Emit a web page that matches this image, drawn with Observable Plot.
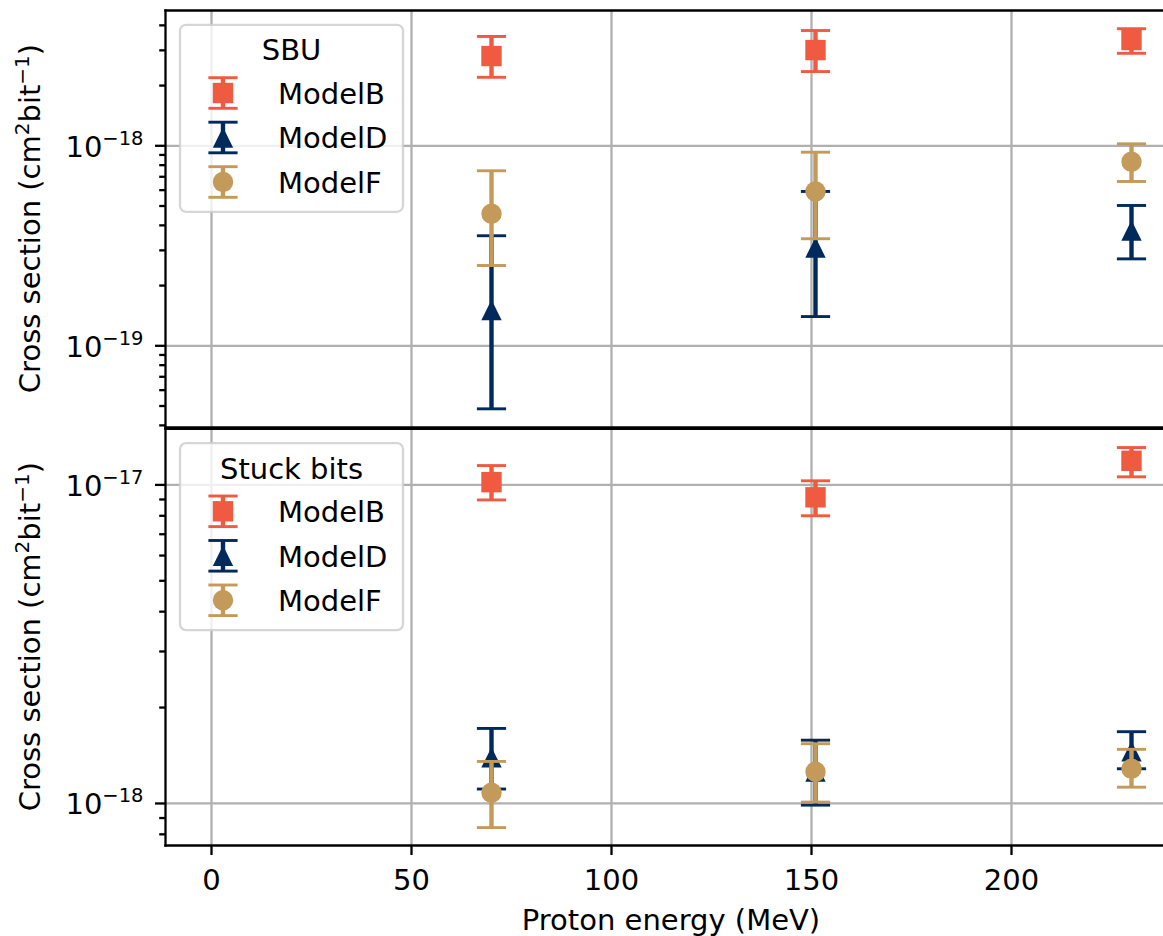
<!DOCTYPE html>
<html>
<head>
<meta charset="utf-8">
<script src="https://cdn.jsdelivr.net/npm/d3@7"></script>
<script src="https://cdn.jsdelivr.net/npm/@observablehq/plot@0.6"></script>
<style>
html, body { margin: 0; padding: 0; background: #fff; overflow: hidden; }
#chart { width: 1163px; height: 936px; overflow: hidden; position: relative; }
#chart svg { display: block; }
</style>
</head>
<body>
<div id="chart"></div>
<script>
// ---------------- data ----------------
const energies = [70, 151, 230];               // MeV
const models = ["ModelB", "ModelD", "ModelF"];
const modelColors = ["#F05A41", "#002A5C", "#C49A5B"];
const xTicks = [0, 50, 100, 150, 200];
const xLabel = "Proton energy (MeV)";
const panelTitles = ["SBU", "Stuck bits"];

// SBU panel (cm^2 bit^-1)
const sbuModelB     = [2.81e-18, 3.01e-18, 3.38e-18];
const sbuModelBLow  = [2.20e-18, 2.35e-18, 2.90e-18];
const sbuModelBHigh = [3.52e-18, 3.77e-18, 3.85e-18];
const sbuModelD     = [1.51e-19, 3.10e-19, 3.77e-19];
const sbuModelDLow  = [4.84e-20, 1.40e-19, 2.72e-19];
const sbuModelDHigh = [3.55e-19, 5.91e-19, 5.03e-19];
const sbuModelF     = [4.57e-19, 5.91e-19, 8.32e-19];
const sbuModelFLow  = [2.52e-19, 3.43e-19, 6.63e-19];
const sbuModelFHigh = [7.50e-19, 9.29e-19, 1.023e-18];

// Stuck bits panel (cm^2 bit^-1)
const stuckModelB     = [1.02e-17, 9.14e-18, 1.19e-17];
const stuckModelBLow  = [8.97e-18, 8.00e-18, 1.06e-17];
const stuckModelBHigh = [1.15e-17, 1.03e-17, 1.31e-17];
const stuckModelD     = [1.395e-18, 1.26e-18, 1.457e-18];
const stuckModelDLow  = [1.11e-18, 0.988e-18, 1.285e-18];
const stuckModelDHigh = [1.72e-18, 1.58e-18, 1.68e-18];
const stuckModelF     = [1.08e-18, 1.257e-18, 1.286e-18];
const stuckModelFLow  = [8.4e-19, 1.01e-18, 1.125e-18];
const stuckModelFHigh = [1.355e-18, 1.54e-18, 1.479e-18];

// axis tick values
const sbuMajor = [1e-19, 1e-18];
const sbuMinor = [4e-20, 5e-20, 6e-20, 7e-20, 8e-20, 9e-20,
                  2e-19, 3e-19, 4e-19, 5e-19, 6e-19, 7e-19, 8e-19, 9e-19,
                  2e-18, 3e-18, 4e-18];
const stuckMajor = [1e-18, 1e-17];
const stuckMinor = [8e-19, 9e-19, 2e-18, 3e-18, 4e-18, 5e-18, 6e-18, 7e-18, 8e-18, 9e-18];

// ---------------- helpers ----------------
function rowsFor(center, low, high) {
  return energies.map((e, i) => ({energy: e, value: center[i], low: low[i], high: high[i]}));
}
const sbuRows = [
  rowsFor(sbuModelB, sbuModelBLow, sbuModelBHigh),
  rowsFor(sbuModelD, sbuModelDLow, sbuModelDHigh),
  rowsFor(sbuModelF, sbuModelFLow, sbuModelFHigh)
];
const stuckRows = [
  rowsFor(stuckModelB, stuckModelBLow, stuckModelBHigh),
  rowsFor(stuckModelD, stuckModelDLow, stuckModelDHigh),
  rowsFor(stuckModelF, stuckModelFLow, stuckModelFHigh)
];

const rad = size => Math.sqrt(size / Math.PI);
const capSymbol = {draw(ctx, size) { const r = rad(size); ctx.moveTo(-r, 0); ctx.lineTo(r, 0); }};
const squareSymbol = {draw(ctx, size) { const r = rad(size);
  ctx.moveTo(-r, -r); ctx.lineTo(r, -r); ctx.lineTo(r, r); ctx.lineTo(-r, r); ctx.closePath(); }};
const triangleSymbol = {draw(ctx, size) { const r = rad(size);
  ctx.moveTo(0, -r); ctx.lineTo(r, r); ctx.lineTo(-r, r); ctx.closePath(); }};
const circleSymbol = {draw(ctx, size) { const r = rad(size);
  ctx.moveTo(r, 0); ctx.arc(0, 0, r, 0, 2 * Math.PI); ctx.closePath(); }};
const modelSymbols = [squareSymbol, triangleSymbol, circleSymbol];

const FONT = "DejaVu Sans, sans-serif";
const FS = 29;
const LW = 2.3;
const MARKER_R = 10.2;
const CAP_R = 14.6;
const ELW = 4.4;
const CAPW = 2.9;

function seriesMarks(rows, color, symbol) {
  return [
    Plot.ruleX(rows, {x: "energy", y1: "low", y2: "high", stroke: color, strokeWidth: ELW}),
    Plot.dot(rows, {x: "energy", y: "low", symbol: capSymbol, r: CAP_R, stroke: color, strokeWidth: CAPW, fill: "none"}),
    Plot.dot(rows, {x: "energy", y: "high", symbol: capSymbol, r: CAP_R, stroke: color, strokeWidth: CAPW, fill: "none"}),
    Plot.dot(rows, {x: "energy", y: "value", symbol: symbol, r: MARKER_R, fill: color, stroke: "none"})
  ];
}

function panel({rows, yDomain, yMajor, yMinor, height, marginTop, marginBottom, withX}) {
  const grid = {stroke: "#b0b0b0", strokeOpacity: 1, strokeWidth: LW};
  const marks = [
    Plot.gridX(xTicks, grid),
    Plot.gridY(yMajor, grid)
  ];
  rows.forEach((r, i) => marks.push(...seriesMarks(r, modelColors[i], modelSymbols[i])));
  marks.push(
    Plot.frame({anchor: "top", stroke: "black", strokeWidth: LW}),
    Plot.frame({anchor: "left", stroke: "black", strokeWidth: LW}),
    Plot.frame({anchor: "bottom", stroke: "black", strokeWidth: LW}),
    Plot.axisY(yMinor, {anchor: "left", tickSize: 5.8, strokeWidth: LW, tickFormat: () => "", label: null}),
    Plot.axisY(yMajor, {anchor: "left", tickSize: 10, tickPadding: 12, strokeWidth: LW, fontSize: FS,
      tickFormat: d => "10^" + Math.round(Math.log10(d)), label: null})
  );
  if (withX) {
    marks.push(Plot.axisX(xTicks, {anchor: "bottom", tickSize: 10, tickPadding: 14.4, strokeWidth: LW,
      fontSize: FS, tickFormat: d => String(d), label: null}));
  }
  return Plot.plot({
    width: 1163, height, marginLeft: 165, marginRight: 0, marginTop, marginBottom,
    x: {domain: [-11.5, 241.5], range: [165, 1177], axis: withX ? undefined : null, label: null},
    y: {type: "log", domain: yDomain, label: null},
    style: {fontFamily: FONT, fontSize: FS + "px", color: "black", background: "white", overflow: "visible", maxWidth: "none"},
    marks
  });
}

function fixTickLabels(svg) {
  svg.querySelectorAll("text").forEach(t => {
    const m = t.textContent.match(/^10\^(-?\d+)$/);
    if (!m) return;
    const exp = m[1].replace("-", "\u2212");
    t.textContent = "";
    const ns = "http://www.w3.org/2000/svg";
    const a = document.createElementNS(ns, "tspan"); a.textContent = "10";
    const b = document.createElementNS(ns, "tspan"); b.textContent = exp;
    b.setAttribute("font-size", "19.5px"); b.setAttribute("dy", "-12");
    t.appendChild(a); t.appendChild(b);
    t.setAttribute("y", "0.38em");
  });
}

function addYLabel(svg) {
  const yr = svg.scale("y").range;
  const cy = (yr[0] + yr[1]) / 2;
  const t = d3.select(svg).append("text")
    .attr("transform", `translate(39.5,${cy}) rotate(-90)`)
    .attr("text-anchor", "middle").attr("font-family", FONT).attr("font-size", FS).attr("fill", "black");
  t.append("tspan").text("Cross section (cm");
  t.append("tspan").attr("font-size", 20).attr("dy", -11).text("2");
  t.append("tspan").attr("dy", 11).text("bit");
  t.append("tspan").attr("font-size", 20).attr("dy", -11).text("\u22121");
  t.append("tspan").attr("dy", 11).text(")");
}

function drawLegend(svg, title) {
  const xr = svg.scale("x").range, yr = svg.scale("y").range;
  const left = xr[0] + 15, topY = Math.min(yr[0], yr[1]) + 14.8;
  const g = d3.select(svg).append("g").attr("transform", `translate(${left},${topY})`)
    .attr("font-family", FONT).attr("font-size", FS).attr("text-anchor", "start");
  g.append("rect").attr("width", 223).attr("height", 187).attr("rx", 6)
    .attr("fill", "white").attr("fill-opacity", 0.8)
    .attr("stroke", "#cccccc").attr("stroke-opacity", 0.8).attr("stroke-width", 2.3);
  g.append("text").attr("x", 111.5).attr("y", 35.5).attr("text-anchor", "middle").attr("fill", "black").text(title);
  models.forEach((m, i) => {
    const cy = 68.2 + i * 44.5, cx = 43, col = modelColors[i];
    g.append("line").attr("x1", cx).attr("x2", cx).attr("y1", cy - 15.3).attr("y2", cy + 15.3)
      .attr("stroke", col).attr("stroke-width", ELW);
    [cy - 15.3, cy + 15.3].forEach(yy => g.append("line").attr("x1", cx - CAP_R).attr("x2", cx + CAP_R)
      .attr("y1", yy).attr("y2", yy).attr("stroke", col).attr("stroke-width", CAPW));
    const p = d3.path();
    modelSymbols[i].draw(p, MARKER_R * MARKER_R * Math.PI);
    g.append("path").attr("d", p.toString()).attr("transform", `translate(${cx},${cy})`).attr("fill", col);
    g.append("text").attr("x", 98).attr("y", cy + 10.9).attr("text-anchor", "start").attr("fill", "black").text(m);
  });
}

// ---------------- render ----------------
const topSvg = panel({rows: sbuRows, yDomain: [3.904e-20, 4.747e-18], yMajor: sbuMajor, yMinor: sbuMinor,
  height: 428, marginTop: 10, marginBottom: 1, withX: false});
const bottomSvg = panel({rows: stuckRows, yDomain: [7.38e-19, 1.50e-17], yMajor: stuckMajor, yMinor: stuckMinor,
  height: 508, marginTop: 0.3, marginBottom: 91, withX: true});

[topSvg, bottomSvg].forEach((svg, i) => {
  fixTickLabels(svg);
  addYLabel(svg);
  drawLegend(svg, panelTitles[i]);
});

// x axis label
{
  const xr = bottomSvg.scale("x").range;
  d3.select(bottomSvg).append("text")
    .attr("x", (xr[0] + xr[1]) / 2).attr("y", 502.2)
    .attr("text-anchor", "middle").attr("font-family", FONT).attr("font-size", FS).attr("fill", "black")
    .text(xLabel);
}

const chart = document.getElementById("chart");
chart.appendChild(topSvg);
chart.appendChild(bottomSvg);
</script>
</body>
</html>
